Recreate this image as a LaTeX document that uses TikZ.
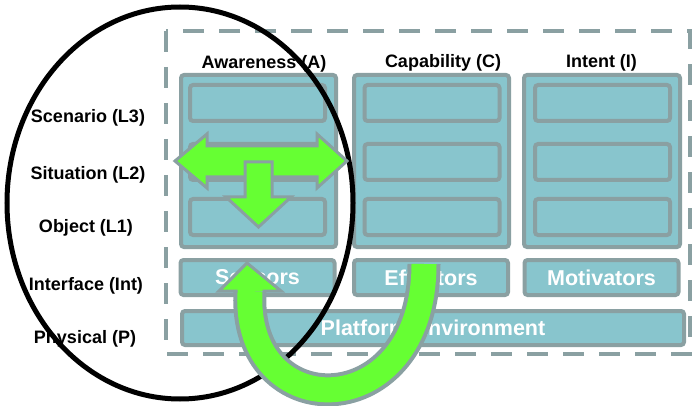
\documentclass[tikz,border=0pt]{standalone}
\usepackage{fontspec}
\setmainfont{Liberation Sans}
\definecolor{boxfill}{RGB}{136,197,205}
\definecolor{boxline}{RGB}{138,160,162}
\definecolor{arrgreen}{RGB}{102,255,51}
\begin{document}
\begin{tikzpicture}[x=1pt,y=-1pt,
  panel/.style={draw=boxline, fill=boxfill, line width=4pt, rounded corners=3pt, inner sep=0pt},
  bigpanel/.style={panel, minimum height=172pt},
  innerpanel/.style={panel, minimum width=135pt, minimum height=36pt},
  intpanel/.style={panel, minimum width=154pt, minimum height=35pt, text=white, font=\fontsize{21.5}{24}\selectfont\bfseries},
  lbl/.style={font=\fontsize{18}{20}\selectfont\bfseries, text=black, anchor=base, inner sep=0pt},
  greenshape/.style={fill=arrgreen, draw=boxline, line width=3pt, line join=miter}]
\useasboundingbox (0,0) rectangle (693,406);

% dashed frame
\draw[boxline, line width=4pt, dash pattern=on 21pt off 15pt] (166,31) rectangle (690,354);

% column panels
\node[bigpanel, minimum width=155pt] (bigA) at (258.5,161) {};
\node[bigpanel, minimum width=155pt] (bigC) at (431.5,161) {};
\node[bigpanel, minimum width=156pt] (bigI) at (602,161) {};

\node[innerpanel] (a3) at (257.5,103) {};
\node[innerpanel] (a2) at (257.5,162) {};
\node[innerpanel] (a1) at (257.5,217) {};
\node[innerpanel] (c3) at (432,103) {};
\node[innerpanel] (c2) at (432,162) {};
\node[innerpanel] (c1) at (432,217) {};
\node[innerpanel] (i3) at (602.5,103) {};
\node[innerpanel] (i2) at (602.5,162) {};
\node[innerpanel] (i1) at (602.5,217) {};

% interface row
\node[intpanel] (sens) at (257.5,277.5) {Sensors};
\node[intpanel] (effe) at (431,277.5) {Effectors};
\node[intpanel] (moti) at (601.5,277.5) {Motivators};
\node[intpanel, minimum width=502pt, minimum height=34pt] (plat) at (433,328) {Platform Environment};

% column titles
\node[lbl] (tA) at (264,69) {Awareness (A)};
\node[lbl] (tC) at (443,68) {Capability (C)};
\node[lbl] (tI) at (601.5,68) {Intent (I)};

% row labels
\node[lbl] (lL3) at (88,123) {Scenario (L3)};
\node[lbl] (lL2) at (88,180) {Situation (L2)};
\node[lbl] (lL1) at (86,232) {Object (L1)};
\node[lbl] (lInt) at (86,290) {Interface (Int)};
\node[lbl] (lP) at (85,343) {Physical (P)};

% ellipse
\draw[black, line width=5pt] (180,203) ellipse [x radius=173pt, y radius=196pt];

% horizontal double arrow
\draw[greenshape] (175,161) -- (207,134) -- (207,146) -- (317,146) -- (317,134) -- (347,161)
  -- (317,188) -- (317,177) -- (207,177) -- (207,188) -- cycle;
% down arrow
\draw[greenshape] (245,162) -- (272,162) -- (272,197) -- (291,197) -- (258.5,227)
  -- (226,197) -- (245,197) -- cycle;

% U-turn arrow
\coordinate (ustart) at (424,264);
\coordinate (uend) at (250,291);
\draw[boxline, line width=33pt] (ustart) .. controls (424,427) and (242,427) .. (uend);
\draw[arrgreen, line width=25pt] (ustart) .. controls (424,427) and (242,427) .. (uend);
\fill[arrgreen] (219,291) -- (247,263) -- (281,291) -- cycle;
\draw[boxline, line width=3pt, line join=miter] (237.5,291) -- (219,291) -- (247,263) -- (281,291) -- (262.5,291);
\end{tikzpicture}
\end{document}
